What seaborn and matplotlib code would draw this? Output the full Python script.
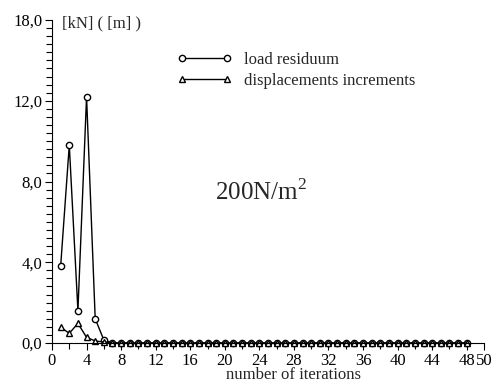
import numpy as np
import pandas as pd
import matplotlib
matplotlib.use('Agg')
import matplotlib.pyplot as plt
import matplotlib.ticker as mticker
import seaborn as sns

# Dados
iteracoes = list(range(1, 49))
load_residuum = [3.8, 9.8, 1.6, 12.3, 1.2, 0.15,
                 0.0, 0.0, 0.0, 0.0, 0.0, 0.0, 0.0, 0.0, 0.0, 0.0, 0.0, 0.0, 0.0, 0.0, 0.0,
                 0.0, 0.0, 0.0, 0.0, 0.0, 0.0, 0.0, 0.0, 0.0, 0.0, 0.0, 0.0, 0.0, 0.0, 0.0,
                 0.0, 0.0, 0.0, 0.0, 0.0, 0.0, 0.0, 0.0, 0.0, 0.0, 0.0, 0.0]
disp_increments = [0.78, 0.48, 0.97, 0.28, 0.1, 0.05,
                   0.0, 0.0, 0.0, 0.0, 0.0, 0.0, 0.0, 0.0, 0.0, 0.0, 0.0, 0.0, 0.0, 0.0, 0.0,
                   0.0, 0.0, 0.0, 0.0, 0.0, 0.0, 0.0, 0.0, 0.0, 0.0, 0.0, 0.0, 0.0, 0.0, 0.0,
                   0.0, 0.0, 0.0, 0.0, 0.0, 0.0, 0.0, 0.0, 0.0, 0.0, 0.0, 0.0]
y_ticks = [0, 4, 8, 12, 18]
y_tick_labels = ['0,0', '4,0', '8,0', '12,0', '18,0']
x_ticks = [0, 4, 8, 12, 16, 20, 24, 28, 32, 36, 40, 44, 48, 50]

df = pd.DataFrame({'it': iteracoes, 'load': load_residuum, 'disp': disp_increments})

sns.set_style('ticks')
plt.rcParams['font.family'] = ['Liberation Serif', 'DejaVu Serif']
plt.rcParams['mathtext.fontset'] = 'custom'
plt.rcParams['mathtext.rm'] = 'Liberation Serif'

fig = plt.figure(figsize=(5.01, 3.85), dpi=100)
ax = fig.add_axes([52/501, 42/385, 432/501, 323/385])

# escala do eixo y: rótulos igualmente espaçados
pos = np.arange(len(y_ticks), dtype=float)
def fwd(v):
    return np.interp(v, y_ticks, pos)
def inv(p):
    return np.interp(p, pos, y_ticks)
ax.set_yscale('function', functions=(fwd, inv))

estilo = dict(color='black', lw=1.0, markersize=4.5, markerfacecolor='white',
              markeredgecolor='black', markeredgewidth=1.0, clip_on=False, legend=False)
sns.lineplot(data=df, x='it', y='load', ax=ax, marker='o', label='load residuum', **estilo)
sns.lineplot(data=df, x='it', y='disp', ax=ax, marker='^', label='displacements increments', **estilo)

ax.set_xlim(0, 50)
ax.set_ylim(0, 18)
ax.set_yticks(y_ticks)
ax.set_yticklabels(y_tick_labels)
ax.yaxis.set_minor_locator(mticker.FixedLocator(inv(np.arange(0, 4.001, 0.1))))
ax.set_xticks(x_ticks)
ax.xaxis.set_minor_locator(mticker.MultipleLocator(2))
ax.tick_params(axis='both', which='both', direction='out', width=0.8, colors='black', labelsize=12)
ax.tick_params(axis='both', which='major', length=5, pad=2)
ax.tick_params(axis='both', which='minor', length=4)
sns.despine(ax=ax)
for s in ['left', 'bottom']:
    ax.spines[s].set_linewidth(0.8)
    ax.spines[s].set_color('black')

ax.set_xlabel('number of iterations', fontsize=12)
ax.xaxis.set_label_coords(0.56, -0.075)
ax.set_ylabel('')
ax.text(0.023, 0.99, '[kN] ( [m] )', transform=ax.transAxes, fontsize=12, va='center', ha='left')
ax.text(0.377, 0.443, '200N/m$^2$', transform=ax.transAxes, fontsize=18, va='baseline', ha='left')

ax.legend(loc='upper left', bbox_to_anchor=(0.29, 0.9), frameon=False, fontsize=12, numpoints=2,
          handlelength=3.3, handletextpad=0.7, labelspacing=0.3, borderpad=0, borderaxespad=0)

plt.savefig('out.png', dpi=100)
